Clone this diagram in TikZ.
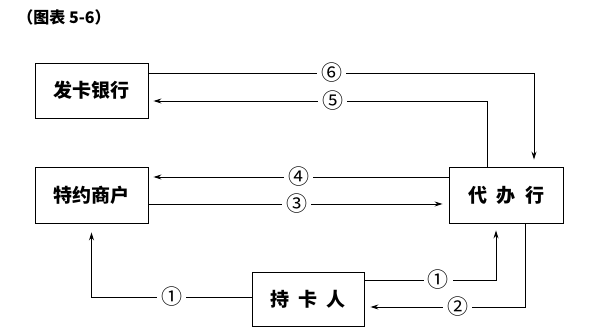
\documentclass[tikz,border=0pt]{standalone}
\usepackage{fontspec}
\newfontfamily\cjk{Noto Sans CJK SC}
\usetikzlibrary{arrows.meta}

\begin{document}
\begin{tikzpicture}[x=1pt,y=-1pt,>={Stealth[length=8pt,width=5pt]},
    line width=0.9pt,
    party/.style={draw,minimum width=113pt,minimum height=55pt,inner sep=0pt,
      font=\cjk\bfseries\fontsize{19}{22}\selectfont},
    num/.style={fill=white,inner xsep=4pt,inner ysep=0pt,
      font=\cjk\fontsize{21}{22}\selectfont},
    arr/.style={->,shorten >=6pt}]
  \useasboundingbox (0,0) rectangle (590,334);
  % caption
  \node[anchor=west,inner sep=0pt,font=\cjk\bfseries\fontsize{16}{18}\selectfont]
    (cap) at (17,17) {（图表 5-6）};
  % parties
  \node[party] (issuer) at (91.5,90.5) {发卡银行};
  \node[party,minimum height=56pt] (merchant) at (91.5,195) {特约商户};
  \node[party,minimum width=114pt,minimum height=56pt] (agent) at (506,195)
    {代\hspace{0.5em}办\hspace{0.5em}行};
  \node[party,minimum width=112pt,minimum height=54pt] (holder) at (308,299)
    {持\hspace{0.45em}卡\hspace{0.45em}人};
  % issuer <-> agent
  \draw[arr,shorten >=7pt] ([yshift=17.5pt]issuer.east) -| node[num,pos=0.238] {⑥}
    ([xshift=28pt]agent.north);
  \draw[arr,shorten >=5pt] ([xshift=-19pt]agent.north) |- node[num,pos=0.728] {⑤}
    ([yshift=-10.5pt]issuer.east);
  % merchant <-> agent
  \draw[arr,shorten >=5pt] ([yshift=18pt]agent.west) -- node[num,pos=0.5] {④}
    ([yshift=18pt]merchant.east);
  \draw[arr] ([yshift=-9pt]merchant.east) -- node[num,pos=0.495] {③}
    ([yshift=-9pt]agent.west);
  % card holder
  \draw[arr,shorten >=9pt] ([yshift=2pt]holder.west) -| node[num,pos=0.25] {①}
    (merchant.south);
  \draw[arr,shorten >=7pt] ([yshift=19pt]holder.east) -| node[num,pos=0.28] {①}
    ([xshift=-10pt]agent.south);
  \draw[arr] ([xshift=19pt]agent.south) |- node[num,pos=0.71] {②}
    ([yshift=-8pt]holder.east);
\end{tikzpicture}
\end{document}
